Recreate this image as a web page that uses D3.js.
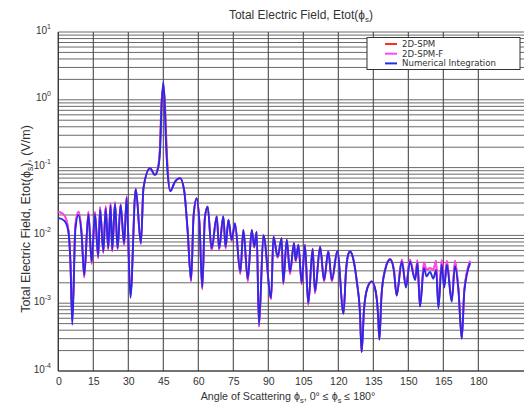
<!DOCTYPE html>
<html>
<head>
<meta charset="utf-8">
<script src="https://cdn.jsdelivr.net/npm/d3@7"></script>
<style>
  html, body { margin: 0; padding: 0; background: #fff; }
  svg { display: block; font-family: Arial, "Liberation Sans", sans-serif; }
</style>
</head>
<body>
<svg id="chart" width="524" height="410"></svg>
<script>
// ---- data ----
const seriesNames = ["2D-SPM", "2D-SPM-F", "Numerical Integration"];
const xTicks = [0, 15, 30, 45, 60, 75, 90, 105, 120, 135, 150, 165, 180];
const yTicks = [1e-4, 1e-3, 1e-2, 1e-1, 1e0, 1e1];
const yTickExponents = ["-4", "-3", "-2", "-1", "0", "1"];

const angles = [
  0, 2.5, 4.2, 5.2, 6.0, 7.3, 8.6, 10.0, 11.1, 12.9, 14.3, 15.7, 17.1, 17.9, 19.3, 20.3,
  21.4, 22.4, 23.1, 24.3, 25.4, 26.7, 28.2, 29.3, 30.9, 33.2, 35.4, 36.5, 39.3, 41.4,
  42.9, 43.6, 44.2, 45.0, 45.7, 46.1, 46.7, 48.0, 50.0, 52.2, 53.9, 55.4, 56.9, 58.0,
  59.3, 60.5, 61.7, 62.8, 64.0, 65.7, 67.9, 68.9, 70.7, 71.7, 72.9, 74.3, 75.7, 78.0,
  79.3, 81.2, 82.9, 84.0, 85.0, 86.0, 87.9, 91.2, 92.2, 94.0, 95.7, 96.4, 97.9, 99.3,
  101.0, 101.7, 102.9, 104.3, 105.7, 107.1, 109.0, 110.0, 112.2, 113.9, 115.7, 117.2,
  119.6, 122.2, 123.3, 124.0, 125.0, 126.2, 128.0, 129.2, 130.0, 131.0, 132.5, 134.3,
  136.0, 137.0, 137.6, 138.5, 140.0, 142.2, 143.8, 145.0, 147.2, 149.0, 150.7, 152.9,
  153.9, 155.0, 156.7, 157.8, 159.3, 160.7, 161.9, 162.9, 164.3, 165.4, 166.5, 168.6,
  170.0, 171.5, 172.9, 174.0, 176.5
];

const spm = [
  0.0224, 0.020, 0.013, 0.004, 0.00055, 0.014, 0.0224, 0.011, 0.0024, 0.0224, 0.0038, 0.022, 0.0046, 0.026, 0.0055, 0.027,
  0.0062, 0.030, 0.0058, 0.031, 0.0062, 0.029, 0.0072, 0.038, 0.0013, 0.049, 0.0075, 0.050, 0.098, 0.079,
  0.110, 0.22, 0.95, 1.50, 0.95, 0.40, 0.13, 0.046, 0.062, 0.070, 0.047, 0.012, 0.0021, 0.020,
  0.035, 0.015, 0.0016, 0.018, 0.0265, 0.0060, 0.019, 0.0061, 0.019, 0.0064, 0.017, 0.0082, 0.015, 0.0027,
  0.012, 0.0021, 0.012, 0.0066, 0.0113, 0.00045, 0.0101, 0.00115, 0.0096, 0.0047, 0.0091, 0.0019, 0.0086, 0.0027,
  0.0078, 0.0041, 0.0073, 0.0019, 0.0073, 0.00095, 0.0064, 0.0014, 0.0068, 0.0021, 0.0059, 0.0021,
  0.0059, 0.0007, 0.0030, 0.0048, 0.0058, 0.0048, 0.0020, 0.0008, 0.00019, 0.0008, 0.0017, 0.0021,
  0.0015, 0.0007, 0.00029, 0.0013, 0.0031, 0.0045, 0.0032, 0.0013, 0.0044, 0.0018, 0.0044, 0.0023,
  0.0043, 0.0009, 0.0040, 0.0031, 0.0033, 0.0031, 0.0042, 0.0009, 0.0043, 0.0018, 0.0042, 0.0011,
  0.0042, 0.0016, 0.0003, 0.0016, 0.0042
];

const spmF = [
  0.0224, 0.020, 0.013, 0.004, 0.00055, 0.014, 0.0224, 0.011, 0.0024, 0.0224, 0.0038, 0.022, 0.0046, 0.026, 0.0055, 0.027,
  0.0062, 0.030, 0.0058, 0.031, 0.0062, 0.029, 0.0072, 0.038, 0.0013, 0.049, 0.0075, 0.050, 0.098, 0.079,
  0.105, 0.19, 0.75, 1.70, 0.75, 0.28, 0.10, 0.045, 0.062, 0.070, 0.047, 0.012, 0.0021, 0.020,
  0.035, 0.015, 0.0016, 0.018, 0.0265, 0.0060, 0.019, 0.0061, 0.019, 0.0064, 0.017, 0.0082, 0.015, 0.0027,
  0.012, 0.0021, 0.012, 0.0066, 0.0113, 0.00045, 0.0101, 0.00115, 0.0096, 0.0047, 0.0091, 0.0019, 0.0086, 0.0027,
  0.0078, 0.0041, 0.0073, 0.0019, 0.0073, 0.00095, 0.0064, 0.0014, 0.0068, 0.0021, 0.0059, 0.0021,
  0.0059, 0.0007, 0.0030, 0.0048, 0.0058, 0.0048, 0.0020, 0.0008, 0.00019, 0.0008, 0.0017, 0.0021,
  0.0015, 0.0007, 0.00029, 0.0013, 0.0031, 0.0045, 0.0032, 0.0013, 0.0044, 0.0018, 0.0044, 0.0023,
  0.0043, 0.0009, 0.0040, 0.0031, 0.0033, 0.0031, 0.0042, 0.0009, 0.0043, 0.0018, 0.0042, 0.0011,
  0.0042, 0.0016, 0.0003, 0.0016, 0.0042
];

const numerical = [
  0.0181, 0.0165, 0.012, 0.004, 0.00048, 0.012, 0.020, 0.010, 0.0026, 0.0205, 0.0041, 0.0205, 0.0049, 0.024, 0.0058, 0.025,
  0.0065, 0.028, 0.0061, 0.029, 0.0065, 0.028, 0.0076, 0.036, 0.0012, 0.048, 0.0077, 0.050, 0.098, 0.078,
  0.103, 0.18, 0.70, 1.83, 0.70, 0.26, 0.10, 0.045, 0.062, 0.070, 0.047, 0.012, 0.0022, 0.020,
  0.035, 0.015, 0.0017, 0.018, 0.0265, 0.0065, 0.019, 0.0065, 0.019, 0.0068, 0.017, 0.0086, 0.015, 0.0029,
  0.012, 0.0023, 0.012, 0.0068, 0.0113, 0.00048, 0.0101, 0.0012, 0.0096, 0.0049, 0.0091, 0.0020, 0.0086, 0.0029,
  0.0077, 0.0043, 0.0072, 0.0020, 0.0072, 0.0010, 0.0063, 0.0015, 0.0068, 0.0022, 0.0058, 0.0022,
  0.0059, 0.0007, 0.0030, 0.0048, 0.0058, 0.0048, 0.0020, 0.0008, 0.00019, 0.0008, 0.0017, 0.0021,
  0.0015, 0.0007, 0.00029, 0.0013, 0.0030, 0.0044, 0.0030, 0.0013, 0.0041, 0.0017, 0.0041, 0.0022,
  0.0039, 0.00089, 0.0033, 0.0025, 0.0029, 0.0023, 0.0031, 0.00084, 0.0037, 0.0017, 0.0037, 0.00105,
  0.0035, 0.0015, 0.0003, 0.0015, 0.0039
];

const seriesColors = ["#ff2b2b", "#ff45ff", "#2a2ae6"];

// ---- chart ----
const svg = d3.select("#chart");
const plotL = 58.3, plotR = 525, plotT = 32, plotB = 371;

const x = d3.scaleLinear().domain([0, 200]).range([plotL, plotR]);
const y = d3.scaleLog().domain([1e-4, 1e1]).range([plotB, plotT]);

svg.append("rect").attr("x", 0).attr("y", 0).attr("width", 524).attr("height", 410).attr("fill", "#fff");

// horizontal grid (decades + minor)
const minorVals = [];
for (let e = -4; e < 1; e++) {
  for (let m = 1; m <= 9; m++) minorVals.push(m * Math.pow(10, e));
}
minorVals.push(10);
svg.append("g").selectAll("line").data(minorVals).join("line")
  .attr("x1", plotL).attr("x2", plotR)
  .attr("y1", d => y(d)).attr("y2", d => y(d))
  .attr("stroke", "#6a6a6a").attr("stroke-width", 1);

// vertical grid
svg.append("g").selectAll("line").data(xTicks).join("line")
  .attr("x1", d => x(d)).attr("x2", d => x(d))
  .attr("y1", plotT).attr("y2", plotB)
  .attr("stroke", "#4a4a4a").attr("stroke-width", 1.1);

// axes lines
svg.append("line").attr("x1", plotL).attr("x2", plotL).attr("y1", plotT).attr("y2", plotB).attr("stroke", "#333").attr("stroke-width", 1.1);
svg.append("line").attr("x1", plotL).attr("x2", plotR).attr("y1", plotB).attr("y2", plotB).attr("stroke", "#333").attr("stroke-width", 1.1);

// x tick labels
const xAxis = d3.axisBottom(x).tickValues(xTicks).tickSize(0).tickPadding(0).tickFormat(d3.format("d"));
const gx = svg.append("g").attr("transform", `translate(0,${plotB})`).call(xAxis);
gx.select(".domain").remove();
gx.selectAll("text").attr("y", 14).attr("dy", null).attr("font-size", 10.5).attr("fill", "#333")
  .attr("font-family", "Arial, 'Liberation Sans', sans-serif");

// y tick labels 10^k
const gy = svg.append("g");
yTicks.forEach((v, i) => {
  const t = gy.append("text").attr("x", 51).attr("y", y(v) + 1.5)
    .attr("text-anchor", "end").attr("font-size", 10).attr("fill", "#333");
  t.append("tspan").text("10");
  t.append("tspan").attr("dy", -5).attr("font-size", 7).text(yTickExponents[i]);
});

// series lines
const line = d3.line().x(d => x(d[0])).y(d => y(d[1])).curve(d3.curveMonotoneX);
const seriesData = [spm, spmF, numerical];
const gl = svg.append("g");
seriesData.forEach((vals, i) => {
  gl.append("path")
    .datum(angles.map((a, j) => [a, vals[j]]))
    .attr("d", line)
    .attr("fill", "none")
    .attr("stroke", seriesColors[i])
    .attr("stroke-width", i === 2 ? 1.9 : 1.8)
    .attr("stroke-linejoin", "round");
});

// title
const title = svg.append("text").attr("x", 301).attr("y", 18.5).attr("text-anchor", "middle")
  .attr("font-size", 12).attr("fill", "#333");
title.append("tspan").text("Total Electric Field, Etot(ϕ");
title.append("tspan").attr("dy", 3).attr("font-size", 8).text("s");
title.append("tspan").attr("dy", -3).text(")");

// x label
const xl = svg.append("text").attr("x", 288).attr("y", 400).attr("text-anchor", "middle")
  .attr("font-size", 10.7).attr("fill", "#333");
xl.append("tspan").text("Angle of Scattering ϕ");
xl.append("tspan").attr("dy", 3).attr("font-size", 7.5).text("s");
xl.append("tspan").attr("dy", -3).text(", 0° ≤ ϕ");
xl.append("tspan").attr("dy", 3).attr("font-size", 7.5).text("s");
xl.append("tspan").attr("dy", -3).text(" ≤ 180°");

// y label
const yl = svg.append("text").attr("transform", "translate(30,219) rotate(-90)").attr("text-anchor", "middle")
  .attr("font-size", 12.5).attr("fill", "#333");
yl.append("tspan").text("Total Electric Field, Etot(ϕ");
yl.append("tspan").attr("dy", 3).attr("font-size", 8.5).text("s");
yl.append("tspan").attr("dy", -3).text("), (V/m)");

// legend
const lg = svg.append("g");
lg.append("rect").attr("x", 367).attr("y", 37.5).attr("width", 153).attr("height", 32)
  .attr("fill", "#fff").attr("stroke", "#333").attr("stroke-width", 1);
seriesNames.forEach((name, i) => {
  const yy = 44 + i * 9.7;
  lg.append("line").attr("x1", 385).attr("x2", 397).attr("y1", yy).attr("y2", yy)
    .attr("stroke", seriesColors[i]).attr("stroke-width", 2);
  lg.append("text").attr("x", 402).attr("y", yy + 3).attr("font-size", 8.6)
    .attr("font-family", "'DejaVu Sans', Verdana, sans-serif").attr("fill", "#333").text(name);
});
</script>
</body>
</html>
